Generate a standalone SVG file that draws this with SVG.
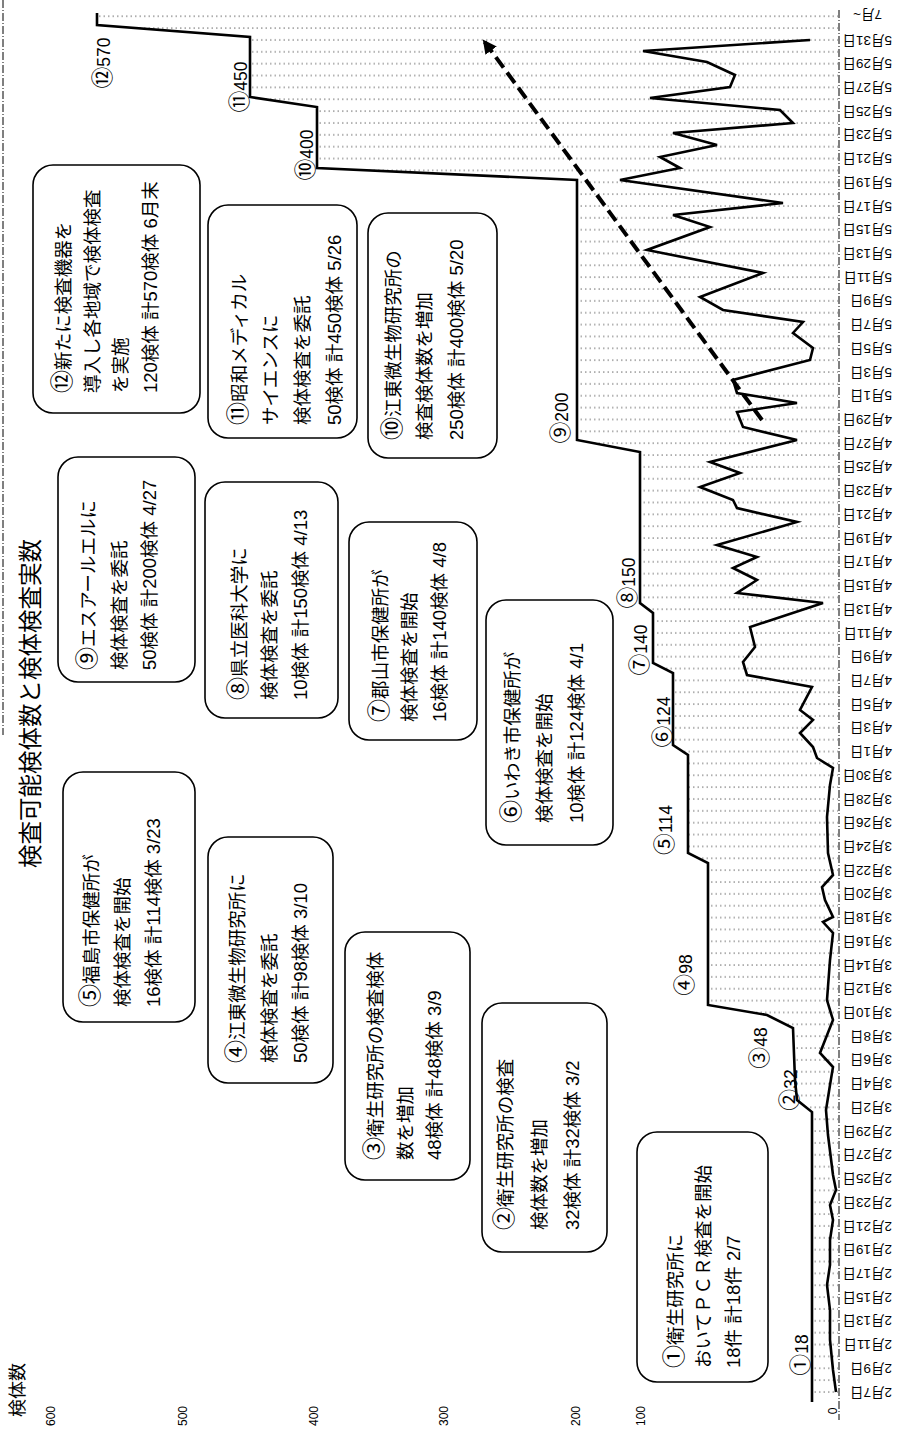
<svg xmlns="http://www.w3.org/2000/svg" width="901" height="1432" viewBox="0 0 901 1432">
<style>
.box{fill:#fff;stroke:#000;stroke-width:1.6}
.bt{font-family:"Liberation Sans","Noto Sans CJK JP",sans-serif;font-size:18.5px;fill:#000}
.sl{font-family:"Liberation Sans","Noto Sans CJK JP",sans-serif;font-size:17.5px;fill:#000;text-anchor:middle}
.cn{font-family:"Noto Sans CJK JP",sans-serif;font-size:125%}
.vl{font-family:"Liberation Sans","Noto Sans CJK JP",sans-serif;font-size:12px;fill:#000;text-anchor:middle}
.dt{font-family:"Liberation Sans","Noto Sans CJK JP",sans-serif;font-size:13.5px;fill:#000;dominant-baseline:central}
.step{fill:none;stroke:#000;stroke-width:2.6;stroke-linejoin:miter}
.count{fill:none;stroke:#000;stroke-width:2.6;stroke-linejoin:miter}
.axis{fill:none;stroke:#000;stroke-width:1;stroke-dasharray:8 2 1 2}
.trend{fill:none;stroke:#000;stroke-width:4;stroke-dasharray:13 6}
</style>
<defs>
<pattern id="gridpat" patternUnits="userSpaceOnUse" x="0" y="-0.62" width="901" height="11.86">
<line x1="0" y1="5" x2="901" y2="5" stroke="#555" stroke-width="0.9" stroke-dasharray="1.5 3"/>
</pattern>
<marker id="ah" markerUnits="userSpaceOnUse" markerWidth="16" markerHeight="16" viewBox="0 0 16 16" refX="12" refY="8" orient="auto">
<path d="M0,1 L14,8 L0,15 Z" fill="#000"/>
</marker>
</defs>
<rect width="901" height="1432" fill="#fff"/>
<line x1="3" y1="0" x2="3" y2="735" class="axis"/>

<g id="title">
<text class="bt" style="font-size:23.5px" transform="rotate(-90 39 868)" x="39" y="868">検査可能検体数と検体検査実数</text>
<text class="bt" style="font-size:18px" transform="rotate(-90 24 1417)" x="24" y="1417">検体数</text>
</g>

<g id="value-axis">
<text class="vl" transform="rotate(-90 55 1416)" x="55" y="1416">600</text>
<text class="vl" transform="rotate(-90 187 1416)" x="187" y="1416">500</text>
<text class="vl" transform="rotate(-90 318 1416)" x="318" y="1416">400</text>
<text class="vl" transform="rotate(-90 448 1416)" x="448" y="1416">300</text>
<text class="vl" transform="rotate(-90 580 1416)" x="580" y="1416">200</text>
<text class="vl" transform="rotate(-90 645 1416)" x="645" y="1416">100</text>
<text class="vl" transform="rotate(-90 837 1411)" x="837" y="1411">0</text>
</g>

<g id="chart">
<polygon fill="url(#gridpat)" points="97,13 97,25 250,37 250,97 317,107 317,168 577,180 577,440 640,452 640,603 653,613 653,663 673,673 673,745 688,755 688,853 708,863 708,1005 767,1015 793,1028 795,1080 797,1100 812,1112 812,1400 838,1400 838,13"/>
<line x1="839" y1="10" x2="839" y2="1420" class="axis"/>
<polyline class="step" points="97,13 97,25 250,37 250,97 317,107 317,168 577,180 577,440 640,452 640,603 653,613 653,663 673,673 673,745 688,755 688,853 708,863 708,1005 767,1015 793,1028 795,1080 797,1100 812,1112 812,1402"/>
<polyline class="count" points="836,1392 833,1370 830,1340 830,1310 827,1285 830,1265 830,1240 833,1220 830,1205 836,1190 833,1175 828,1135 826,1110 830,1085 833,1067 820,1053 833,1020 827,1000 830,960 833,933 823,922 833,917 825,900 822,887 833,875 828,853 827,817 830,785 833,768 817,758 813,747 800,733 813,720 800,710 812,687 747,675 743,662 755,647 750,627 823,603 737,593 757,580 733,568 757,557 717,545 797,522 737,508 733,500 700,487 740,473 710,462 797,440 743,427 737,412 797,403 737,393 733,380 810,360 813,348 793,333 803,322 723,310 700,297 763,273 647,250 710,227 673,215 783,203 620,180 680,168 660,157 717,145 673,133 793,123 780,110 650,98 730,87 735,75 707,62 643,51 810,40"/>
</g>

<g id="step-labels">
<text class="sl" transform="rotate(-90 808 1355)" x="808" y="1355"><tspan class="cn">①</tspan>18</text>
<text class="sl" transform="rotate(-90 797 1090)" x="797" y="1090"><tspan class="cn">②</tspan>32</text>
<text class="sl" transform="rotate(-90 767 1048)" x="767" y="1048"><tspan class="cn">③</tspan>48</text>
<text class="sl" transform="rotate(-90 692 975)" x="692" y="975"><tspan class="cn">④</tspan>98</text>
<text class="sl" transform="rotate(-90 672 830)" x="672" y="830"><tspan class="cn">⑤</tspan>114</text>
<text class="sl" transform="rotate(-90 670 722)" x="670" y="722"><tspan class="cn">⑥</tspan>124</text>
<text class="sl" transform="rotate(-90 647 650)" x="647" y="650"><tspan class="cn">⑦</tspan>140</text>
<text class="sl" transform="rotate(-90 635 583)" x="635" y="583"><tspan class="cn">⑧</tspan>150</text>
<text class="sl" transform="rotate(-90 568 418)" x="568" y="418"><tspan class="cn">⑨</tspan>200</text>
<text class="sl" transform="rotate(-90 313 155)" x="313" y="155"><tspan class="cn">⑩</tspan>400</text>
<text class="sl" transform="rotate(-90 247 87)" x="247" y="87"><tspan class="cn">⑪</tspan>450</text>
<text class="sl" transform="rotate(-90 110 63)" x="110" y="63"><tspan class="cn">⑫</tspan>570</text>
</g>

<g id="date-axis">
<text class="dt" transform="rotate(180 892 1392)" x="892" y="1392">2月7日</text>
<text class="dt" transform="rotate(180 892 1368.3)" x="892" y="1368.3">2月9日</text>
<text class="dt" transform="rotate(180 892 1344.6)" x="892" y="1344.6">2月11日</text>
<text class="dt" transform="rotate(180 892 1320.8)" x="892" y="1320.8">2月13日</text>
<text class="dt" transform="rotate(180 892 1297.1)" x="892" y="1297.1">2月15日</text>
<text class="dt" transform="rotate(180 892 1273.4)" x="892" y="1273.4">2月17日</text>
<text class="dt" transform="rotate(180 892 1249.7)" x="892" y="1249.7">2月19日</text>
<text class="dt" transform="rotate(180 892 1226)" x="892" y="1226">2月21日</text>
<text class="dt" transform="rotate(180 892 1202.2)" x="892" y="1202.2">2月23日</text>
<text class="dt" transform="rotate(180 892 1178.5)" x="892" y="1178.5">2月25日</text>
<text class="dt" transform="rotate(180 892 1154.8)" x="892" y="1154.8">2月27日</text>
<text class="dt" transform="rotate(180 892 1131.1)" x="892" y="1131.1">2月29日</text>
<text class="dt" transform="rotate(180 892 1107.4)" x="892" y="1107.4">3月2日</text>
<text class="dt" transform="rotate(180 892 1083.6)" x="892" y="1083.6">3月4日</text>
<text class="dt" transform="rotate(180 892 1059.9)" x="892" y="1059.9">3月6日</text>
<text class="dt" transform="rotate(180 892 1036.2)" x="892" y="1036.2">3月8日</text>
<text class="dt" transform="rotate(180 892 1012.5)" x="892" y="1012.5">3月10日</text>
<text class="dt" transform="rotate(180 892 988.8)" x="892" y="988.8">3月12日</text>
<text class="dt" transform="rotate(180 892 965)" x="892" y="965">3月14日</text>
<text class="dt" transform="rotate(180 892 941.3)" x="892" y="941.3">3月16日</text>
<text class="dt" transform="rotate(180 892 917.6)" x="892" y="917.6">3月18日</text>
<text class="dt" transform="rotate(180 892 893.9)" x="892" y="893.9">3月20日</text>
<text class="dt" transform="rotate(180 892 870.2)" x="892" y="870.2">3月22日</text>
<text class="dt" transform="rotate(180 892 846.4)" x="892" y="846.4">3月24日</text>
<text class="dt" transform="rotate(180 892 822.7)" x="892" y="822.7">3月26日</text>
<text class="dt" transform="rotate(180 892 799)" x="892" y="799">3月28日</text>
<text class="dt" transform="rotate(180 892 775.3)" x="892" y="775.3">3月30日</text>
<text class="dt" transform="rotate(180 892 751.6)" x="892" y="751.6">4月1日</text>
<text class="dt" transform="rotate(180 892 727.8)" x="892" y="727.8">4月3日</text>
<text class="dt" transform="rotate(180 892 704.1)" x="892" y="704.1">4月5日</text>
<text class="dt" transform="rotate(180 892 680.4)" x="892" y="680.4">4月7日</text>
<text class="dt" transform="rotate(180 892 656.7)" x="892" y="656.7">4月9日</text>
<text class="dt" transform="rotate(180 892 633)" x="892" y="633">4月11日</text>
<text class="dt" transform="rotate(180 892 609.2)" x="892" y="609.2">4月13日</text>
<text class="dt" transform="rotate(180 892 585.5)" x="892" y="585.5">4月15日</text>
<text class="dt" transform="rotate(180 892 561.8)" x="892" y="561.8">4月17日</text>
<text class="dt" transform="rotate(180 892 538.1)" x="892" y="538.1">4月19日</text>
<text class="dt" transform="rotate(180 892 514.4)" x="892" y="514.4">4月21日</text>
<text class="dt" transform="rotate(180 892 490.6)" x="892" y="490.6">4月23日</text>
<text class="dt" transform="rotate(180 892 466.9)" x="892" y="466.9">4月25日</text>
<text class="dt" transform="rotate(180 892 443.2)" x="892" y="443.2">4月27日</text>
<text class="dt" transform="rotate(180 892 419.5)" x="892" y="419.5">4月29日</text>
<text class="dt" transform="rotate(180 892 395.8)" x="892" y="395.8">5月1日</text>
<text class="dt" transform="rotate(180 892 372)" x="892" y="372">5月3日</text>
<text class="dt" transform="rotate(180 892 348.3)" x="892" y="348.3">5月5日</text>
<text class="dt" transform="rotate(180 892 324.6)" x="892" y="324.6">5月7日</text>
<text class="dt" transform="rotate(180 892 300.9)" x="892" y="300.9">5月9日</text>
<text class="dt" transform="rotate(180 892 277.2)" x="892" y="277.2">5月11日</text>
<text class="dt" transform="rotate(180 892 253.4)" x="892" y="253.4">5月13日</text>
<text class="dt" transform="rotate(180 892 229.7)" x="892" y="229.7">5月15日</text>
<text class="dt" transform="rotate(180 892 206)" x="892" y="206">5月17日</text>
<text class="dt" transform="rotate(180 892 182.3)" x="892" y="182.3">5月19日</text>
<text class="dt" transform="rotate(180 892 158.6)" x="892" y="158.6">5月21日</text>
<text class="dt" transform="rotate(180 892 134.8)" x="892" y="134.8">5月23日</text>
<text class="dt" transform="rotate(180 892 111.1)" x="892" y="111.1">5月25日</text>
<text class="dt" transform="rotate(180 892 87.4)" x="892" y="87.4">5月27日</text>
<text class="dt" transform="rotate(180 892 63.7)" x="892" y="63.7">5月29日</text>
<text class="dt" transform="rotate(180 892 40)" x="892" y="40">5月31日</text>
<text class="dt" transform="rotate(180 882 14)" x="882" y="14">7月~</text>
</g>

<g id="connectors">
<line class="trend" x1="762" y1="420" x2="484" y2="41" marker-end="url(#ah)"/>
</g>

<g id="node-12">
<rect class="box" x="33" y="165" width="167" height="248" rx="20"/>
<text class="bt" transform="rotate(-90 70 393)" x="70" y="393"><tspan class="cn">⑫</tspan>新たに検査機器を</text>
<text class="bt" transform="rotate(-90 99 393)" x="99" y="393">導入し各地域で検体検査</text>
<text class="bt" transform="rotate(-90 127 393)" x="127" y="393">を実施</text>
<text class="bt" transform="rotate(-90 157 393)" x="157" y="393">120検体 計570検体 6月末</text>
</g>
<g id="node-9">
<rect class="box" x="58" y="457" width="137" height="225" rx="20"/>
<text class="bt" transform="rotate(-90 95 670)" x="95" y="670"><tspan class="cn">⑨</tspan>エスアールエルに</text>
<text class="bt" transform="rotate(-90 126 670)" x="126" y="670">検体検査を委託</text>
<text class="bt" transform="rotate(-90 156 670)" x="156" y="670">50検体 計200検体 4/27</text>
</g>
<g id="node-5">
<rect class="box" x="63" y="772" width="132" height="250" rx="20"/>
<text class="bt" transform="rotate(-90 98 1007)" x="98" y="1007"><tspan class="cn">⑤</tspan>福島市保健所が</text>
<text class="bt" transform="rotate(-90 129 1007)" x="129" y="1007">検体検査を開始</text>
<text class="bt" transform="rotate(-90 160 1007)" x="160" y="1007">16検体 計114検体 3/23</text>
</g>
<g id="node-11">
<rect class="box" x="208" y="205" width="149" height="233" rx="20"/>
<text class="bt" transform="rotate(-90 246 425)" x="246" y="425"><tspan class="cn">⑪</tspan>昭和メディカル</text>
<text class="bt" transform="rotate(-90 277 425)" x="277" y="425">サイエンスに</text>
<text class="bt" transform="rotate(-90 309 425)" x="309" y="425">検体検査を委託</text>
<text class="bt" transform="rotate(-90 341 425)" x="341" y="425">50検体 計450検体 5/26</text>
</g>
<g id="node-10">
<rect class="box" x="368" y="213" width="129" height="245" rx="20"/>
<text class="bt" transform="rotate(-90 400 440)" x="400" y="440"><tspan class="cn">⑩</tspan>江東微生物研究所の</text>
<text class="bt" transform="rotate(-90 431 440)" x="431" y="440">検査検体数を増加</text>
<text class="bt" transform="rotate(-90 463 440)" x="463" y="440">250検体 計400検体 5/20</text>
</g>
<g id="node-8">
<rect class="box" x="205" y="482" width="133" height="236" rx="20"/>
<text class="bt" transform="rotate(-90 246 700)" x="246" y="700"><tspan class="cn">⑧</tspan>県立医科大学に</text>
<text class="bt" transform="rotate(-90 276 700)" x="276" y="700">検体検査を委託</text>
<text class="bt" transform="rotate(-90 307 700)" x="307" y="700">10検体 計150検体 4/13</text>
</g>
<g id="node-7">
<rect class="box" x="349" y="522" width="128" height="218" rx="20"/>
<text class="bt" transform="rotate(-90 387 722)" x="387" y="722"><tspan class="cn">⑦</tspan>郡山市保健所が</text>
<text class="bt" transform="rotate(-90 416 722)" x="416" y="722">検体検査を開始</text>
<text class="bt" transform="rotate(-90 446 722)" x="446" y="722">16検体 計140検体 4/8</text>
</g>
<g id="node-6">
<rect class="box" x="486" y="600" width="127" height="245" rx="20"/>
<text class="bt" transform="rotate(-90 519 823)" x="519" y="823"><tspan class="cn">⑥</tspan>いわき市保健所が</text>
<text class="bt" transform="rotate(-90 551 823)" x="551" y="823">検体検査を開始</text>
<text class="bt" transform="rotate(-90 583 823)" x="583" y="823">10検体 計124検体 4/1</text>
</g>
<g id="node-4">
<rect class="box" x="208" y="837" width="125" height="246" rx="20"/>
<text class="bt" transform="rotate(-90 244 1063)" x="244" y="1063"><tspan class="cn">④</tspan>江東微生物研究所に</text>
<text class="bt" transform="rotate(-90 276 1063)" x="276" y="1063">検体検査を委託</text>
<text class="bt" transform="rotate(-90 307 1063)" x="307" y="1063">50検体 計98検体 3/10</text>
</g>
<g id="node-3">
<rect class="box" x="345" y="932" width="125" height="248" rx="20"/>
<text class="bt" transform="rotate(-90 382 1160)" x="382" y="1160"><tspan class="cn">③</tspan>衛生研究所の検査検体</text>
<text class="bt" transform="rotate(-90 412 1160)" x="412" y="1160">数を増加</text>
<text class="bt" transform="rotate(-90 441 1160)" x="441" y="1160">48検体 計48検体 3/9</text>
</g>
<g id="node-2">
<rect class="box" x="482" y="1003" width="125" height="249" rx="20"/>
<text class="bt" transform="rotate(-90 512 1230)" x="512" y="1230"><tspan class="cn">②</tspan>衛生研究所の検査</text>
<text class="bt" transform="rotate(-90 546 1230)" x="546" y="1230">検体数を増加</text>
<text class="bt" transform="rotate(-90 579 1230)" x="579" y="1230">32検体 計32検体 3/2</text>
</g>
<g id="node-1">
<rect class="box" x="637" y="1132" width="131" height="250" rx="20"/>
<text class="bt" transform="rotate(-90 682 1368)" x="682" y="1368"><tspan class="cn">①</tspan>衛生研究所に</text>
<text class="bt" transform="rotate(-90 710 1368)" x="710" y="1368">おいてＰＣＲ検査を開始</text>
<text class="bt" transform="rotate(-90 740 1368)" x="740" y="1368">18件 計18件 2/7</text>
</g>
</svg>
